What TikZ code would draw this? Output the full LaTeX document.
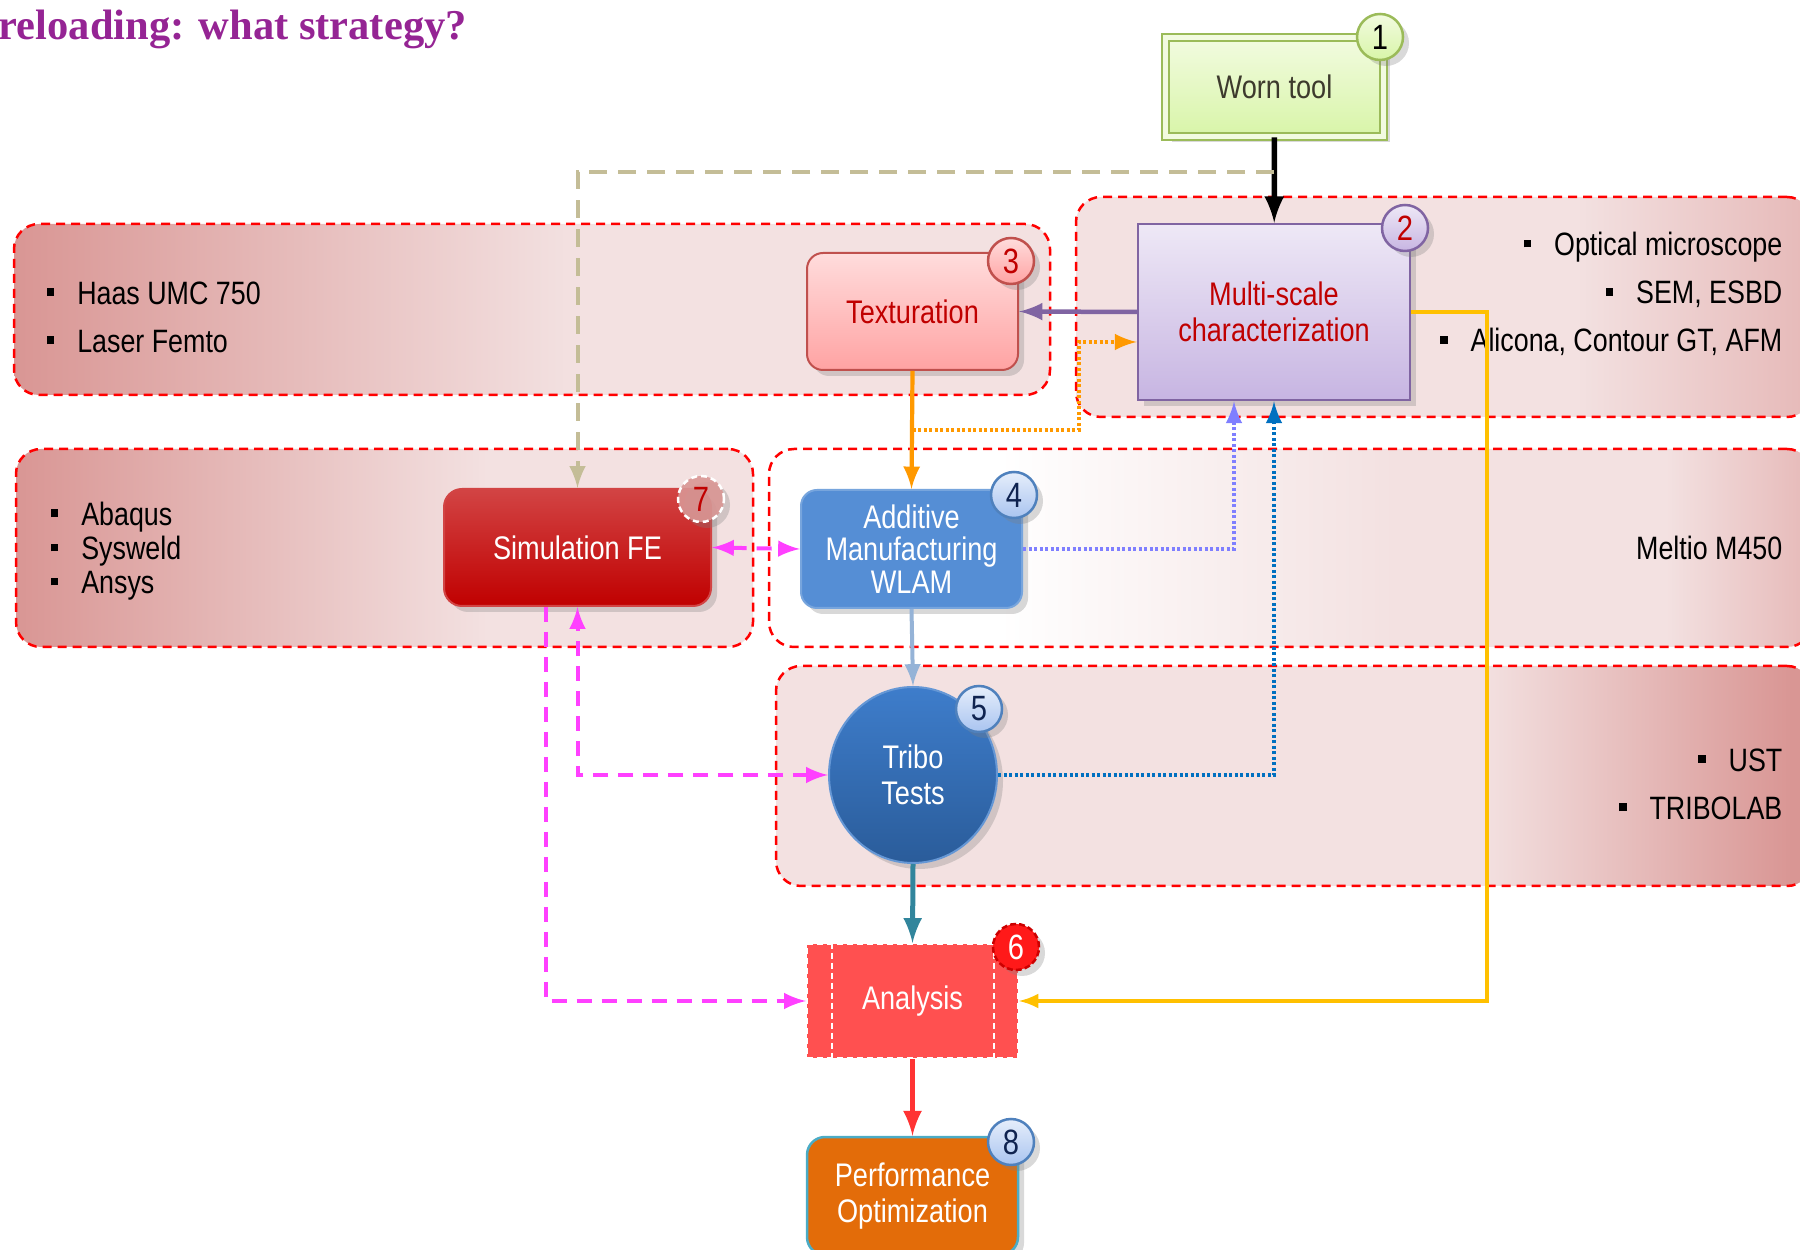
\documentclass[tikz,border=0pt]{standalone}
\usepackage{fontspec}
\setmainfont{Liberation Sans}[FakeStretch=0.83]
\newfontfamily\policetitre{Liberation Serif}
\usepackage{tikz}
\usetikzlibrary{shapes.geometric,calc,shadows}

\definecolor{roseFonce}{HTML}{D99694}
\definecolor{roseClair}{HTML}{F3E1E1}
\definecolor{roseMoyen}{HTML}{E6B9B8}
\definecolor{violetTitre}{HTML}{952494}
\definecolor{rougeTexte}{HTML}{C00000}
\definecolor{vertBord}{HTML}{9BBB59}
\definecolor{vertHaut}{HTML}{F2FBE0}
\definecolor{vertBas}{HTML}{D8F5A8}
\definecolor{violetBord}{HTML}{8064A2}
\definecolor{lavandeHaut}{HTML}{EEE8F6}
\definecolor{lavandeBas}{HTML}{C7B5E2}
\definecolor{roseHaut}{HTML}{FFDCDC}
\definecolor{roseBas}{HTML}{FFA3A3}
\definecolor{rougeBord}{HTML}{C0504D}
\definecolor{bleuAM}{HTML}{558ED5}
\definecolor{bleuBord}{HTML}{4F81BD}
\definecolor{bleuHaut}{HTML}{3E7DCB}
\definecolor{bleuBas}{HTML}{2A5C9A}
\definecolor{bleuPastHaut}{HTML}{E6EEFB}
\definecolor{bleuPastBas}{HTML}{A9C4F0}
\definecolor{bleuNuit}{HTML}{0F2350}
\definecolor{rougeAna}{HTML}{FF5050}
\definecolor{orangePerf}{HTML}{E36C09}
\definecolor{cyanBord}{HTML}{4BACC6}
\definecolor{simHaut}{HTML}{D24444}
\definecolor{simBas}{HTML}{C00000}
\definecolor{beigeFleche}{HTML}{C4BD97}
\definecolor{orangeFleche}{HTML}{FF9900}
\definecolor{magentaFleche}{HTML}{FF40FF}
\definecolor{lilasFleche}{HTML}{7F7FFF}
\definecolor{bleuFleche}{HTML}{0070C0}
\definecolor{orFleche}{HTML}{FFC000}
\definecolor{acierFleche}{HTML}{95B3D7}
\definecolor{tealFleche}{HTML}{31859C}
\definecolor{rougeFleche}{HTML}{FF3333}

% Degrades des cadres (25bp = bord gauche, 75bp = bord droit)
\pgfdeclarehorizontalshading{degradeTex}{100bp}{color(0bp)=(roseFonce); color(25bp)=(roseFonce); color(52bp)=(roseClair); color(100bp)=(roseClair)}
\pgfdeclarehorizontalshading{degradeSim}{100bp}{color(0bp)=(roseFonce); color(25bp)=(roseFonce); color(57bp)=(roseClair); color(100bp)=(roseClair)}
\pgfdeclarehorizontalshading{degradeMulti}{100bp}{color(0bp)=(roseClair); color(59bp)=(roseClair); color(75bp)=(roseMoyen); color(100bp)=(roseMoyen)}
\pgfdeclarehorizontalshading{degradeFab}{100bp}{color(0bp)=(white); color(36bp)=(white); color(55bp)=(roseClair); color(68bp)=(roseClair); color(75bp)=(roseMoyen); color(100bp)=(roseMoyen)}
\pgfdeclarehorizontalshading{degradeTribo}{100bp}{color(0bp)=(roseClair); color(59bp)=(roseClair); color(74bp)=(roseFonce); color(100bp)=(roseFonce)}

\newcommand{\puce}{\rule[0.25em]{2.2pt}{2.2pt}\hspace{6.5pt}}

\begin{document}
\begin{tikzpicture}[x=0.1mm,y=-0.1mm]
    % Styles
    \tikzstyle{fleche}=[->,>=latex,line width=0.38mm]
    \tikzstyle{groupe}=[draw=red,line width=0.25mm,dash pattern=on 0.9mm off 0.6mm,rounded corners=2.5mm,shade]
    \tikzstyle{texte}=[font=\fontsize{9.3}{10.2}\selectfont,align=center]
    \tikzstyle{boite}=[texte,inner sep=0pt]
    \tikzstyle{ombre}=[drop shadow={shadow xshift=0.6mm,shadow yshift=-0.6mm,opacity=0.3}]
    \tikzstyle{liste}=[font=\fontsize{9.2}{13.7}\selectfont,inner sep=0pt]
    \tikzstyle{pastille}=[circle,minimum size=4.6mm,inner sep=0pt,line width=0.25mm,font=\fontsize{10}{10}\selectfont,ombre]
    \tikzstyle{pointille}=[line width=0.4mm,dash pattern=on 0.3mm off 0.25mm]
    \tikzstyle{tirets}=[line width=0.4mm,dash pattern=on 1.5mm off 1mm]
    \useasboundingbox (0,0) rectangle (1800,1250);
    % Titre
    \node[anchor=west,inner sep=0pt,text=violetTitre,font=\policetitre\bfseries\fontsize{12.1}{14}\selectfont] (titre) at (-2,29) {reloading: what strategy?};
    % Cadres
    \node[groupe,shading=degradeTex,minimum width=103.6mm,minimum height=17.1mm] (grpTex) at (532,309.5) {};
    \node[groupe,shading=degradeMulti,minimum width=73.6mm,minimum height=22mm] (grpMulti) at (1444,307) {};
    \node[groupe,shading=degradeSim,minimum width=73.7mm,minimum height=19.8mm] (grpSim) at (384.5,548) {};
    \node[groupe,shading=degradeFab,minimum width=104.3mm,minimum height=19.8mm] (grpFab) at (1290.5,548) {};
    \node[groupe,shading=degradeTribo,minimum width=103.6mm,minimum height=22mm] (grpTribo) at (1294,776) {};
    % Listes
    \node[liste,anchor=east,align=right] (lstMulti) at (1783,294) {\puce Optical microscope\\ \puce SEM, ESBD\\ \puce Alicona, Contour GT, AFM};
    \node[liste,anchor=west,align=left] (lstTex) at (46,317) {\puce Haas UMC 750\\ \puce Laser Femto};
    \node[liste,anchor=west,align=left,font=\fontsize{9.2}{9.7}\selectfont] (lstSim) at (50,551) {\puce Abaqus\\ \puce Sysweld\\ \puce Ansys};
    \node[liste,anchor=east] (lstFab) at (1783,548) {Meltio M450};
    \node[liste,anchor=east,align=right] (lstTribo) at (1783,784) {\puce UST\\ \puce TRIBOLAB};
    % Noeuds
    \node[boite,ombre,draw=vertBord,line width=0.2mm,double=vertHaut,double distance=0.5mm,top color=vertHaut,bottom color=vertBas,minimum width=21.8mm,minimum height=9.9mm,text=black!75!olive] (usee) at (1274.5,87) {Worn tool};
    \node[boite,ombre,draw=violetBord,line width=0.25mm,top color=lavandeHaut,bottom color=lavandeBas,minimum width=27.2mm,minimum height=17.6mm,text=rougeTexte] (multi) at (1274,312) {Multi-scale\\characterization};
    \node[boite,ombre,draw=rougeBord,line width=0.2mm,rounded corners=1.6mm,top color=roseHaut,bottom color=roseBas,minimum width=21.1mm,minimum height=11.7mm,text=rougeTexte] (tex) at (912.5,311.5) {Texturation};
    \node[boite,ombre,draw=simHaut,line width=0.2mm,rounded corners=1.8mm,top color=simHaut,bottom color=simBas,minimum width=26.7mm,minimum height=11.7mm,text=white] (sim) at (577.5,547.5) {Simulation FE};
    \node[boite,ombre,draw=bleuAM!80!white,line width=0.2mm,rounded corners=1.6mm,fill=bleuAM,minimum width=22.1mm,minimum height=11.8mm,text=white,font=\fontsize{9.3}{9.2}\selectfont] (am) at (911.5,549) {Additive\\Manufacturing\\WLAM};
    \node[boite,ombre,ellipse,draw=bleuHaut!80!white,line width=0.2mm,top color=bleuHaut,bottom color=bleuBas,minimum width=16.8mm,minimum height=17.6mm,text=white] (tribo) at (913,775) {Tribo\\Tests};
    \node[boite,fill=rougeAna,draw=white,line width=0.2mm,dash pattern=on 0.6mm off 0.4mm,minimum width=21.1mm,minimum height=11.4mm,text=white] (ana) at (912.5,1001) {Analysis};
    \node[boite,ombre,draw=cyanBord,line width=0.25mm,rounded corners=1.8mm,fill=orangePerf,minimum width=21.1mm,minimum height=11.8mm,text=white] (perf) at (912.5,1196) {Performance\\Optimization};
    \draw[white,line width=0.2mm,dash pattern=on 0.6mm off 0.4mm] ($(ana.north west)+(26,0)$) -- ($(ana.south west)+(26,0)$);
    \draw[white,line width=0.2mm,dash pattern=on 0.6mm off 0.4mm] ($(ana.north east)+(-25,0)$) -- ($(ana.south east)+(-25,0)$);
    % Pastilles
    \node[pastille,draw=vertBord,top color=vertHaut,bottom color=vertBas] (p1) at (1380,37) {1};
    \node[pastille,draw=violetBord,top color=lavandeHaut,bottom color=lavandeBas,text=rougeTexte] (p2) at (1405,228) {2};
    \node[pastille,draw=rougeBord,top color=roseHaut,bottom color=roseBas,text=rougeTexte] (p3) at (1011,261) {3};
    \node[pastille,draw=bleuBord,top color=bleuPastHaut,bottom color=bleuPastBas,text=bleuNuit] (p4) at (1014,495) {4};
    \node[pastille,draw=bleuBord,top color=bleuPastHaut,bottom color=bleuPastBas,text=bleuNuit] (p5) at (979,709) {5};
    \node[pastille,fill=red!90!white,draw=red!80!black,dash pattern=on 0.6mm off 0.3mm,text=white] (p6) at (1016,947) {6};
    \node[pastille,fill=roseFonce,fill opacity=0.9,text opacity=1,draw=white,dash pattern=on 0.6mm off 0.4mm,text=rougeTexte] (p7) at (701,499) {7};
    \node[pastille,draw=bleuBord,top color=bleuPastHaut,bottom color=bleuPastBas,text=bleuNuit] (p8) at (1011,1142) {8};
    % Arcs
    \coordinate (coudeBeige) at (1274,172);
    \coordinate (coudeOrange) at (1079,430);
    \coordinate (coudeOr) at (1487,1001);
    \draw[fleche,black,line width=0.55mm] (usee) -- (multi);
    \draw[fleche,beigeFleche,tirets,dash pattern=on 1.8mm off 1.1mm] (coudeBeige) -| (sim.north);
    \draw[fleche,violetBord,line width=0.45mm] (multi.west) -- (tex.east);
    \draw[fleche,orangeFleche,line width=0.42mm] (tex.south) -- (am.north);
    \draw[fleche,orangeFleche,pointille] (tex.south |- coudeOrange) -- (coudeOrange) |- ($(multi.west)+(0,30)$);
    \draw[fleche,lilasFleche,pointille] (am.east) -| ($(multi.south)+(-40,0)$);
    \draw[fleche,bleuFleche,pointille] (tribo.east) -| (multi.south);
    \draw[fleche,orFleche,line width=0.32mm] (multi.east) -| (coudeOr) -- (ana.east);
    \draw[fleche,<->,magentaFleche,tirets] (sim.east) -- (am.west);
    \draw[fleche,<->,magentaFleche,tirets] (tribo.west) -| (sim.south);
    \draw[fleche,magentaFleche,tirets] ($(sim.south)+(-32,0)$) |- (ana.west);
    \draw[fleche,acierFleche,line width=0.4mm] (am.south) -- (tribo.north);
    \draw[fleche,tealFleche,line width=0.5mm] (tribo.south) -- (ana.north);
    \draw[fleche,rougeFleche,line width=0.5mm] (ana.south) -- (perf.north);
\end{tikzpicture}
\end{document}
